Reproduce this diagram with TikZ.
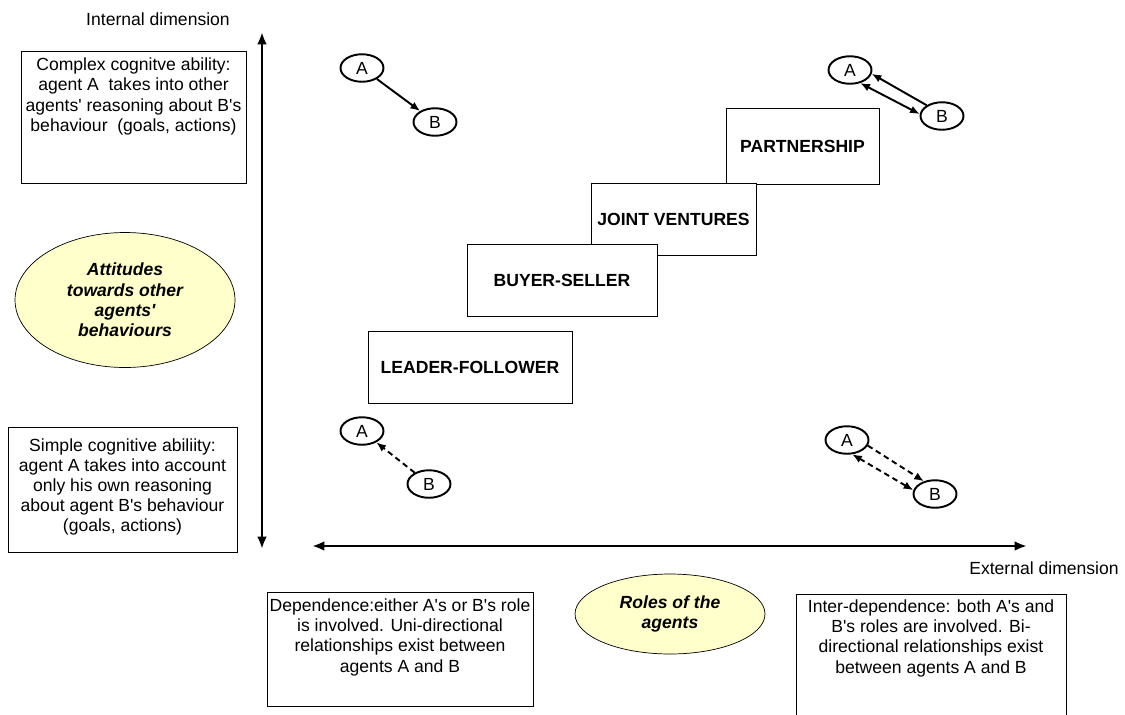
\documentclass[tikz,border=0pt]{standalone}
\usepackage{fontspec}
\setmainfont{Liberation Sans}
\usetikzlibrary{arrows.meta,shapes.geometric}

\definecolor{paleyellow}{RGB}{255,255,204}

% straight apostrophe as in the picture
\newcommand{\ap}{\textquotesingle}
% text block at the top of a framed box: width, height, gap above, text
\newcommand{\boxtext}[4]{\parbox[c][#2][t]{#1}{\centering\vspace*{#3}#4}}

\tikzset{
  infobox/.style={draw, thin, fill=white, inner sep=0pt},
  stairbox/.style={draw, thin, fill=white, inner sep=0pt, font=\bfseries},
  topic/.style={ellipse, draw, thin, fill=paleyellow, inner sep=0pt, align=center, font=\bfseries\itshape},
  agent/.style={ellipse, draw, line width=1.1pt, inner sep=0pt, minimum width=0.86cm, minimum height=0.55cm},
  axis/.style={ultra thick, {Latex[length=7pt,width=5.5pt]}-{Latex[length=7pt,width=5.5pt]}},
  link/.style={line width=1.1pt, -{Latex[length=5.5pt,width=4.5pt]}},
  twolink/.style={line width=1.1pt, {Latex[length=5.5pt,width=4.5pt]}-{Latex[length=5.5pt,width=4.5pt]}},
  dashed link/.style={dash pattern=on 3.2pt off 2.2pt}
}

\begin{document}
\fontsize{10}{11.5}\selectfont
\begin{tikzpicture}[x=0.02cm, y=-0.02cm]
            \useasboundingbox (0,0) rectangle (1125,714);

            % Axis titles
            \node (intlab) at (158,19) {Internal dimension};
            \node (extlab) at (1044,568) {External dimension};

            % Draw the two axes
            \coordinate (ytop) at (262,32);
            \coordinate (ybot) at (262,549);
            \coordinate (xleft) at (312,546);
            \coordinate (xright) at (1027,546);
            \draw[axis] (ytop) -- (ybot);
            \draw[axis] (xleft) -- (xright);

            % Boxes on the left of the vertical axis
            \node[infobox] (complex) at (133.5,117) {\boxtext{4.5cm}{2.64cm}{4pt}{Complex cognitve ability:\\ agent A~ takes into other\\ agents\ap{} reasoning about B\ap{}s\\ behaviour~ (goals, actions)}};
            \node[infobox] (simple) at (122.5,489.5) {\boxtext{4.58cm}{2.5cm}{6.5pt}{Simple cognitive abiliity:\\ agent A takes into account\\ only his own reasoning\\ about agent B\ap{}s behaviour\\ (goals, actions)}};

            % Boxes below the horizontal axis
            \node[infobox] (depend) at (400,649) {\boxtext{5.32cm}{2.28cm}{3.8pt}{Dependence:either A\ap{}s or B\ap{}s role\\ is involved. Uni-directional\\ relationships exist between\\ agents A and B}};
            \node[infobox] (interdep) at (931,666.5) {\boxtext{5.4cm}{2.9cm}{3.3pt}{Inter-dependence: both A\ap{}s and\\ B\ap{}s roles are involved. Bi-\\ directional relationships exist\\ between agents A and B}};

            % Yellow ellipses
            \node[topic, minimum width=4.4cm, minimum height=2.7cm] (attitudes) at (125,300) {Attitudes\\ towards other\\ agents\ap\\ behaviours};
            \node[topic, minimum width=3.8cm, minimum height=1.6cm] (roles) at (670,614) {Roles of the\\ agents};

            % The staircase of relationships
            \node[stairbox, minimum width=3.06cm, minimum height=1.52cm] (partner) at (802.5,146) {PARTNERSHIP};
            \node[stairbox, minimum width=3.3cm, minimum height=1.44cm] (joint) at (673.5,219) {JOINT VENTURES};
            \node[stairbox, minimum width=3.8cm, minimum height=1.44cm] (buyer) at (562,280) {BUYER-SELLER};
            \node[stairbox, minimum width=4.08cm, minimum height=1.44cm] (leader) at (470,367) {LEADER-FOLLOWER};

            % Agents in the four corners
            \node[agent] (tlA) at (362,68) {A};
            \node[agent] (tlB) at (435,122) {B};
            \node[agent] (trA) at (850,70) {A};
            \node[agent] (trB) at (942,116) {B};
            \node[agent] (blA) at (362,431) {A};
            \node[agent] (blB) at (429,484) {B};
            \node[agent] (brA) at (847,440) {A};
            \node[agent] (brB) at (935,494) {B};

            % Relations between A and B
            \draw[link] (tlA) -- (tlB);
            \draw[link] (trB.145) -- (trA.-10);
            \draw[twolink] (trA.-52) -- (trB.175);
            \draw[link, dashed link] (blB) -- (blA);
            \draw[link, dashed link] (brA.-15) -- (brB.131);
            \draw[twolink, dashed link] (brA.-70) -- (brB.170);
        \end{tikzpicture}
\end{document}
